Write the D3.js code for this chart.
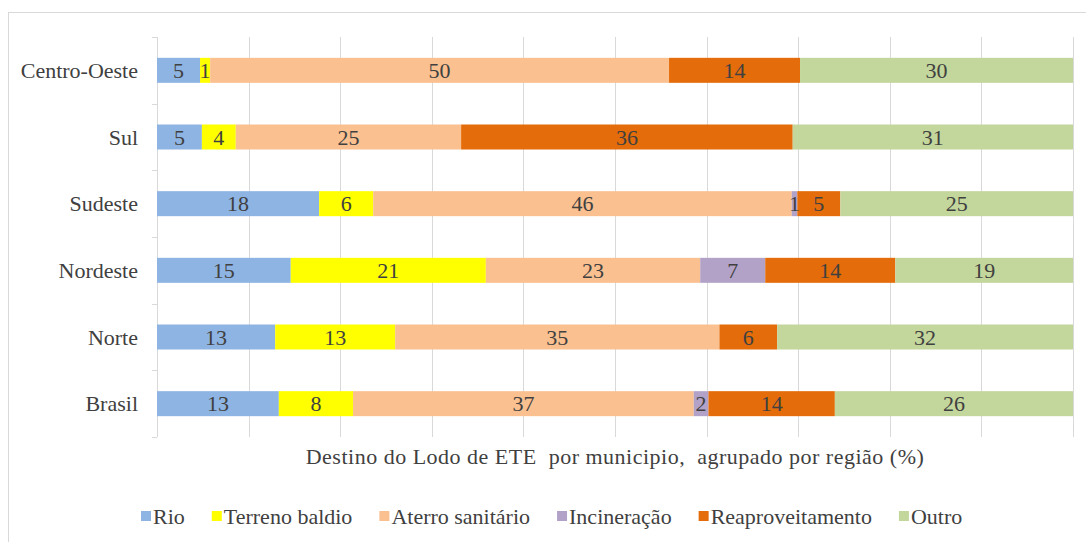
<!DOCTYPE html>
<meta charset="utf-8">
<title>Destino do Lodo de ETE</title>
<script src="https://d3js.org/d3.v7.min.js"></script>
<style>
body { margin: 0; background: #fff; }
svg text { fill: #404040; font-family: "Liberation Serif", "Times New Roman", serif; font-size: 22px; }
</style>
<body>
<div id="chart"></div>
<script>
// regions, top to bottom as drawn
var regioes = ["Centro-Oeste", "Sul", "Sudeste", "Nordeste", "Norte", "Brasil"];
var destinos = ["Rio", "Terreno baldio", "Aterro sanitário", "Incineração", "Reaproveitamento", "Outro"];
var cores = ["#8EB4E3", "#FFFF00", "#FAC090", "#B3A2C7", "#E46C0A", "#C3D69B"];

// values (%) per destino, in the order of regioes (labels show them rounded)
var rio              = [4.7, 4.9, 17.7, 14.6, 12.9, 13.3];
var terrenoBaldio    = [1.1, 3.7, 5.9, 21.3, 13.1, 8.1];
var aterroSanitario  = [50.1, 24.6, 45.7, 23.4, 35.4, 37.2];
var incineracao      = [0, 0, 0.6, 7.1, 0, 1.6];
var reaproveitamento = [14.3, 36.2, 4.7, 14.2, 6.3, 13.8];
var outro            = [29.8, 30.6, 25.4, 19.4, 32.3, 26.0];

var xTicks = [0, 10, 20, 30, 40, 50, 60, 70, 80, 90, 100];
var tituloEixo = "Destino do Lodo de ETE\u00a0 por municipio,\u00a0 agrupado por região (%)";

var series = [rio, terrenoBaldio, aterroSanitario, incineracao, reaproveitamento, outro];

// build rows for the stack (100% stacked, like Excel)
var rows = regioes.map(function(r, i) {
  var row = { regiao: r };
  var total = d3.sum(series, function(s) { return s[i]; });
  destinos.forEach(function(d, j) { row[d] = series[j][i] / total * 100; row[d + "_v"] = series[j][i]; });
  return row;
});

var W = 1086, H = 542;
var svg = d3.select("#chart").append("svg")
  .attr("width", W)
  .attr("height", H);

// chart border (runs off the right and bottom)
svg.append("rect")
  .attr("x", 8.5).attr("y", 12.5)
  .attr("width", W).attr("height", H)
  .attr("fill", "none")
  .attr("stroke", "#D9D9D9");

var x = d3.scaleLinear().domain([0, 100]).range([157, 1073]);
var y = d3.scaleBand().domain(regioes).range([37, 437])
  .paddingInner(0.625).paddingOuter(0.3125);

// vertical gridlines
svg.append("g").selectAll("line")
  .data(xTicks)
  .enter().append("line")
    .attr("x1", function(d) { return Math.round(x(d)) + 0.5; })
    .attr("x2", function(d) { return Math.round(x(d)) + 0.5; })
    .attr("y1", 37).attr("y2", 437)
    .attr("stroke", "#D9D9D9");

// y tick marks at band edges
var step = y.step();
var edges = d3.range(regioes.length + 1).map(function(i) { return 37 + i * step; });
svg.append("g").selectAll("line")
  .data(edges)
  .enter().append("line")
    .attr("x1", 152).attr("x2", 157)
    .attr("y1", function(d) { return Math.round(d) + 0.5; })
    .attr("y2", function(d) { return Math.round(d) + 0.5; })
    .attr("stroke", "#D9D9D9");

var stack = d3.stack().keys(destinos)(rows);
var color = d3.scaleOrdinal().domain(destinos).range(cores);

var layer = svg.append("g").selectAll("g")
  .data(stack)
  .enter().append("g")
    .attr("fill", function(d) { return color(d.key); });

layer.selectAll("rect")
  .data(function(d) { return d; })
  .enter().append("rect")
    .attr("x", function(d) { return x(d[0]); })
    .attr("width", function(d) { return x(d[1]) - x(d[0]); })
    .attr("y", function(d) { return y(d.data.regiao); })
    .attr("height", y.bandwidth());

// data labels
stack.forEach(function(s) {
  svg.append("g").selectAll("text")
    .data(s.filter(function(d) { return d.data[s.key + "_v"] > 0; }))
    .enter().append("text")
      .attr("x", function(d) { return (x(d[0]) + x(d[1])) / 2; })
      .attr("y", function(d) { return y(d.data.regiao) + y.bandwidth() / 2; })
      .attr("dy", "0.35em")
      .attr("text-anchor", "middle")
      .text(function(d) { return Math.round(d.data[s.key + "_v"]); });
});

// category labels
svg.append("g").selectAll("text")
  .data(regioes)
  .enter().append("text")
    .attr("x", 138)
    .attr("y", function(d) { return y(d) + y.bandwidth() / 2; })
    .attr("dy", "0.35em")
    .attr("text-anchor", "end")
    .text(function(d) { return d; });

// axis title
svg.append("text")
  .attr("x", (x(0) + x(100)) / 2)
  .attr("y", 464)
  .attr("text-anchor", "middle")
  .style("letter-spacing", "0.5px")
  .text(tituloEixo);

// legend
var legend = svg.append("g");
var lx = 141;
destinos.forEach(function(d, i) {
  legend.append("rect")
    .attr("x", lx).attr("y", 511)
    .attr("width", 10).attr("height", 10)
    .attr("fill", cores[i]);
  var t = legend.append("text")
    .attr("x", lx + 12).attr("y", 524)
    .text(d);
  lx += 12 + t.node().getComputedTextLength() + 27;
});
</script>
</body>
